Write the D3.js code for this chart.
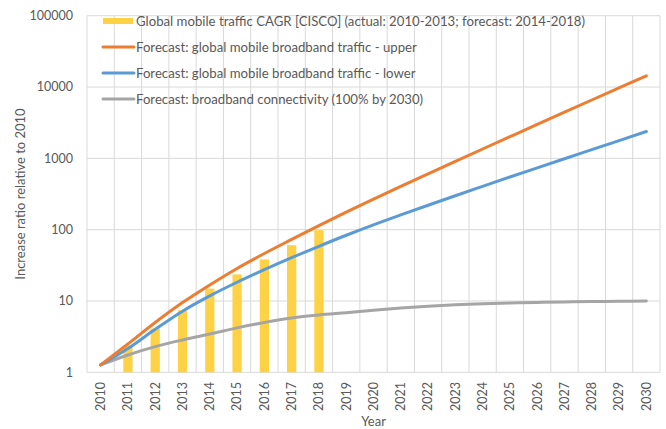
<!DOCTYPE html>
<html>
<head>
<meta charset="utf-8">
<script src="https://cdn.jsdelivr.net/npm/d3@7"></script>
<style>
  html, body { margin: 0; padding: 0; background: #fff; }
  svg { display: block; font-family: Lato, "Open Sans", sans-serif; }
</style>
</head>
<body>
<svg id="chart" width="666" height="429"></svg>
<script>
// ---- data ----
const years = ["2010","2011","2012","2013","2014","2015","2016","2017","2018","2019","2020",
               "2021","2022","2023","2024","2025","2026","2027","2028","2029","2030"];
const ciscoCagr = [null, 2.4, 4.1, 7.4, 14.9, 23.6, 38.3, 60.6, 98.4];
const upper = [1.27, 2.5, 5.0, 9.5, 16.8, 28.6, 46.3, 72.9, 114, 176, 268,
               405, 607, 907, 1352, 2012, 2990, 4437, 6576, 9732, 14385];
const lower = [1.27, 2.15, 4.0, 7.2, 11.8, 18.3, 27.5, 40.5, 58.5, 83.5, 117,
               161, 220, 299, 405, 548, 735, 986, 1322, 1773, 2378];
const connectivity = [1.27, 1.75, 2.29, 2.84, 3.44, 4.2, 5.0, 5.78, 6.37, 6.85, 7.4,
                      7.95, 8.45, 8.85, 9.15, 9.35, 9.55, 9.7, 9.8, 9.9, 10.0];
const yTicks = [1, 10, 100, 1000, 10000, 100000];
const seriesNames = [
  "Global mobile traffic CAGR [CISCO] (actual: 2010-2013; forecast: 2014-2018)",
  "Forecast: global mobile broadband traffic - upper",
  "Forecast: global mobile broadband traffic - lower",
  "Forecast: broadband connectivity (100% by 2030)"
];
const yTitle = "Increase ratio relative to 2010";
const xTitle = "Year";

// ---- layout ----
const svg = d3.select("#chart");
const L = 87, R = 660, T = 15.7, B = 372.3;
const textColor = "#595959", gridColor = "#D9D9D9";
const colors = { bar: "#FFD246", upper: "#ED7D31", lower: "#5B9BD5", conn: "#A5A5A5" };

const x = d3.scaleBand().domain(years).range([L, R]).padding(0);
const y = d3.scaleLog().domain([1, 100000]).range([B, T]);
const cx = d => x(d) + x.bandwidth() / 2;

// horizontal gridlines
svg.append("g").selectAll("line").data(yTicks).join("line")
  .attr("x1", L).attr("x2", R)
  .attr("y1", d => y(d)).attr("y2", d => y(d))
  .attr("stroke", gridColor).attr("stroke-width", 1);

// vertical gridlines at band boundaries
const bounds = years.map(d => x(d)).concat([R]);
svg.append("g").selectAll("line").data(bounds).join("line")
  .attr("x1", d => d).attr("x2", d => d)
  .attr("y1", T).attr("y2", B)
  .attr("stroke", gridColor).attr("stroke-width", 1);

// y tick labels
svg.append("g").selectAll("text").data(yTicks).join("text")
  .attr("x", 73).attr("y", d => y(d))
  .attr("dy", "0.35em")
  .attr("text-anchor", "end")
  .attr("fill", textColor).attr("font-size", 12.5)
  .text(d => d3.format("d")(d));

// x tick labels (rotated)
svg.append("g").selectAll("text").data(years).join("text")
  .attr("transform", d => `translate(${cx(d)},382) rotate(-90)`)
  .attr("dy", "0.35em")
  .attr("text-anchor", "end")
  .attr("fill", textColor).attr("font-size", 12.5)
  .text(d => d);

// axis titles
svg.append("text")
  .attr("transform", `translate(20,${(T + B) / 2}) rotate(-90)`)
  .attr("dy", "0.35em").attr("text-anchor", "middle")
  .attr("fill", textColor).attr("font-size", 13)
  .text(yTitle);
svg.append("text")
  .attr("x", (L + R) / 2).attr("y", 421).attr("dy", "0.35em")
  .attr("text-anchor", "middle")
  .attr("fill", textColor).attr("font-size", 13)
  .text(xTitle);

// bars
const barW = x.bandwidth() * 0.34;
svg.append("g").selectAll("rect")
  .data(ciscoCagr.map((v, i) => ({ year: years[i], v })).filter(d => d.v != null))
  .join("rect")
  .attr("x", d => cx(d.year) - barW / 2)
  .attr("width", barW)
  .attr("y", d => y(d.v))
  .attr("height", d => y(1) - y(d.v))
  .attr("fill", colors.bar);

// lines
const line = d3.line().x(d => cx(d.year)).y(d => y(d.v)).curve(d3.curveCatmullRom.alpha(0.5));
const mk = arr => arr.map((v, i) => ({ year: years[i], v }));
[[connectivity, colors.conn], [lower, colors.lower], [upper, colors.upper]].forEach(([arr, c]) => {
  svg.append("path").datum(mk(arr))
    .attr("d", line)
    .attr("fill", "none")
    .attr("stroke", c).attr("stroke-width", 3)
    .attr("stroke-linecap", "round").attr("stroke-linejoin", "round");
});

// legend
const lg = svg.append("g");
const legendY = [21, 47, 73, 99];
const legendColors = [colors.bar, colors.upper, colors.lower, colors.conn];
seriesNames.forEach((name, i) => {
  const g = lg.append("g").attr("transform", `translate(0,${legendY[i]})`);
  if (i === 0) {
    g.append("rect").attr("x", 103).attr("y", -3).attr("width", 30).attr("height", 6)
      .attr("fill", legendColors[i]);
  } else {
    g.append("line").attr("x1", 103).attr("x2", 134).attr("y1", 0).attr("y2", 0)
      .attr("stroke", legendColors[i]).attr("stroke-width", 3).attr("stroke-linecap", "round");
  }
  g.append("text").attr("class", "lgtext")
    .attr("x", 136).attr("y", 0).attr("dy", "0.35em")
    .attr("fill", textColor).attr("font-size", 12.5)
    .text(name);
});
// calibrate legend font size so that line 2 ends near x=417
const ref = lg.selectAll("text.lgtext").nodes()[1];
const w = ref.getComputedTextLength();
const fs = 12.5 * 281 / w;
lg.selectAll("text.lgtext").attr("font-size", fs);
</script>
</body>
</html>
